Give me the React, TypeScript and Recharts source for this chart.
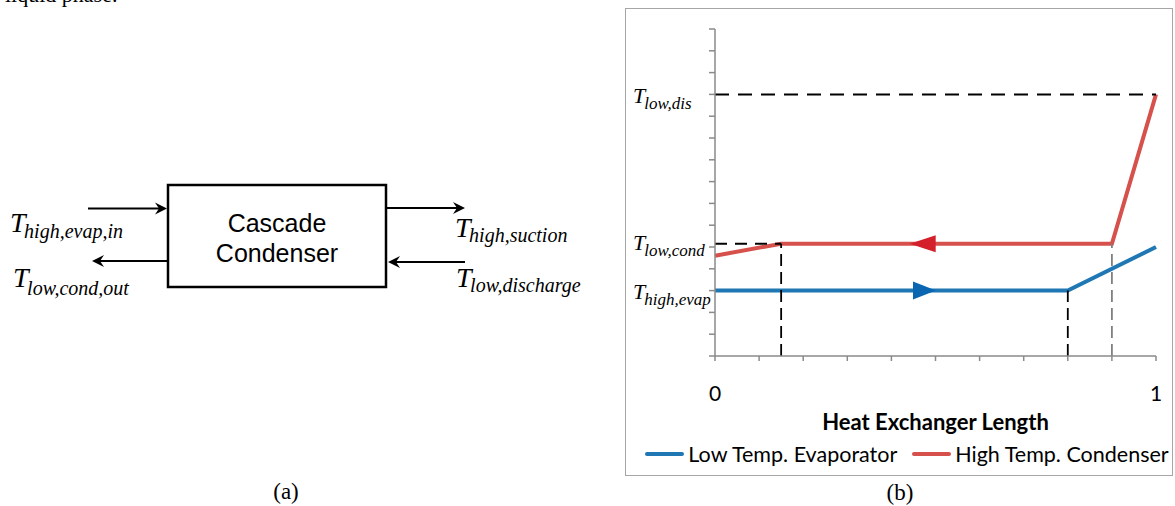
import React from 'react';
import {
  ComposedChart,
  Line,
  Scatter,
  XAxis,
  YAxis,
  ReferenceLine,
  Legend,
  Label,
} from 'recharts';

// heat exchanger length, normalised
const xTicks = [0, 0.1, 0.2, 0.3, 0.4, 0.5, 0.6, 0.7, 0.8, 0.9, 1];
const yTicks = [0, 1, 2, 3, 4, 5, 6, 7, 8, 9, 10, 11, 12, 13, 14, 15];

const seriesNames = ['Low Temp. Evaporator', 'High Temp. Condenser'];

const lowTempEvaporator = [
  { x: 0, y: 3 },
  { x: 0.8, y: 3 },
  { x: 1, y: 5 },
];
const highTempCondenser = [
  { x: 0, y: 4.6 },
  { x: 0.15, y: 5.15 },
  { x: 0.9, y: 5.15 },
  { x: 1, y: 12 },
];

// flow direction markers
const evapArrow = [{ x: 0.475, y: 3 }];
const condArrow = [{ x: 0.471, y: 5.15 }];

// temperature levels / break points
const tLowDis = 12;
const tLowCond = 5.15;
const tHighEvap = 3;
const xCondPinch = 0.15;
const xEvapSuperheat = 0.8;
const xDesuperheat = 0.9;

const yLabels = [
  { tick: 12, sub: 'low,dis', dy: 8.7 },
  { tick: 5, sub: 'low,cond', dy: 2.5 },
  { tick: 3, sub: 'high,evap', dy: 8.7 },
];

const BLUE = '#1f77b4';
const RED = '#d6504c';
const SANS = 'Lato, "Open Sans", sans-serif';
const SERIF = '"Liberation Serif", "Times New Roman", serif';

const YTick = (props: any) => {
  const { y, payload } = props;
  const lbl = yLabels.find((l) => l.tick === payload.value);
  if (!lbl) return <g />;
  return (
    <text x={8} y={y + lbl.dy} fontFamily={SERIF} fontStyle="italic" fill="#000">
      <tspan fontSize={22}>T</tspan>
      <tspan fontSize={17} dx={-1} dy={6}>
        {lbl.sub}
      </tspan>
    </text>
  );
};

const LegendContent = (props: any) => {
  const items = (props.payload || [])
    .filter((p: any) => p.type !== 'none')
    .sort((a: any, b: any) => seriesNames.indexOf(a.value) - seriesNames.indexOf(b.value));
  return (
    <div
      style={{
        display: 'flex',
        justifyContent: 'center',
        alignItems: 'center',
        height: 24,
        fontFamily: SANS,
        fontSize: 21.5,
        color: '#000',
        whiteSpace: 'nowrap',
      }}
    >
      {items.map((p: any, i: number) => (
        <div key={p.value} style={{ display: 'flex', alignItems: 'center', marginLeft: i ? 15 : 0 }}>
          <span style={{ width: 39, height: 4, background: p.color, borderRadius: 2, marginRight: 4 }} />
          <span>{p.value}</span>
        </div>
      ))}
    </div>
  );
};

const leftTriangle = (fill: string) => (p: any) => (
  <polygon
    points={`${p.cx - 13},${p.cy} ${p.cx + 13},${p.cy - 8.5} ${p.cx + 13},${p.cy + 8.5}`}
    fill={fill}
  />
);
const rightTriangle = (fill: string) => (p: any) => (
  <polygon
    points={`${p.cx + 11.5},${p.cy} ${p.cx - 11.5},${p.cy - 9} ${p.cx - 11.5},${p.cy + 9}`}
    fill={fill}
  />
);

function Arrow({ x1, x2, y }: { x1: number; x2: number; y: number }) {
  // arrow from x1 to x2 (tip at x2)
  const d = x2 > x1 ? 1 : -1;
  return (
    <g>
      <line x1={x1} y1={y} x2={x2 - d * 6} y2={y} stroke="#000" strokeWidth={2.2} />
      <path
        d={`M ${x2} ${y} L ${x2 - d * 12} ${y - 6} L ${x2 - d * 8} ${y} L ${x2 - d * 12} ${y + 6} Z`}
        fill="#000"
      />
    </g>
  );
}

function TLabel({ x, y, sub, subDy }: { x: number; y: number; sub: string; subDy: number }) {
  return (
    <text x={x} y={y} fontFamily={SERIF} fontStyle="italic" fill="#000">
      <tspan fontSize={28}>T</tspan>
      <tspan fontSize={20} dx={-1.5} dy={subDy}>
        {sub}
      </tspan>
    </text>
  );
}

function CondenserDiagram() {
  return (
    <svg width={620} height={506} style={{ position: 'absolute', left: 0, top: 0 }}>
      <text x={5} y={2} fontFamily={SERIF} fontSize={22} fill="#000">
        liquid phase.
      </text>
      <rect x={168} y={185} width={218} height={102} fill="none" stroke="#000" strokeWidth={2.5} />
      <text x={277} y={232} textAnchor="middle" fontFamily='"Liberation Sans", Arial, sans-serif' fontSize={25} fill="#000">
        Cascade
      </text>
      <text x={277} y={262} textAnchor="middle" fontFamily='"Liberation Sans", Arial, sans-serif' fontSize={25} fill="#000">
        Condenser
      </text>
      <Arrow x1={88} x2={167} y={208.5} />
      <Arrow x1={167} x2={92} y={261} />
      <Arrow x1={386} x2={465} y={208} />
      <Arrow x1={465} x2={388} y={262} />
      <TLabel x={10} y={231.5} sub="high,evap,in" subDy={6.5} />
      <TLabel x={13} y={286.5} sub="low,cond,out" subDy={8} />
      <TLabel x={455} y={236.5} sub="high,suction" subDy={5.5} />
      <TLabel x={456} y={286.5} sub="low,discharge" subDy={5.5} />
      <text x={286} y={499} textAnchor="middle" fontFamily={SERIF} fontSize={23} fill="#000">
        (a)
      </text>
    </svg>
  );
}

export default function App() {
  return (
    <div style={{ position: 'absolute', left: 0, top: 0, width: 1175, height: 506, background: '#fff', overflow: 'hidden' }}>
      <CondenserDiagram />
      <div
        style={{
          position: 'absolute',
          left: 625,
          top: 8,
          width: 548,
          height: 468,
          border: '1px solid #a6a6a6',
          boxSizing: 'border-box',
        }}
      />
      <div style={{ position: 'absolute', left: 625, top: 9 }}>
        <ComposedChart width={548} height={467} margin={{ top: 20, right: 17, bottom: 10, left: 0 }}>
          <XAxis
            type="number"
            dataKey="x"
            domain={[0, 1]}
            ticks={xTicks}
            interval={0}
            tickSize={5}
            tickMargin={25}
            height={86}
            stroke="#8a8a8a"
            strokeWidth={1.5}
            tick={{ fill: '#000', fontSize: 21, fontFamily: SANS }}
            tickFormatter={(v: number) => (v === 0 || v === 1 ? String(v) : '')}
          >
            <Label
              value="Heat Exchanger Length"
              position="insideBottom"
              offset={12}
              fill="#000"
              fontSize={22}
              fontWeight={700}
              fontFamily={SANS}
            />
          </XAxis>
          <YAxis
            type="number"
            domain={[0, 15]}
            ticks={yTicks}
            interval={0}
            width={90}
            tickSize={6}
            stroke="#8a8a8a"
            strokeWidth={1.5}
            tick={<YTick />}
          />
          <Line
            data={lowTempEvaporator}
            dataKey="y"
            name={seriesNames[0]}
            stroke={BLUE}
            strokeWidth={4}
            dot={false}
            activeDot={false}
            isAnimationActive={false}
          />
          <Line
            data={highTempCondenser}
            dataKey="y"
            name={seriesNames[1]}
            stroke={RED}
            strokeWidth={4}
            dot={false}
            activeDot={false}
            isAnimationActive={false}
          />
          <Scatter data={condArrow} dataKey="y" legendType="none" shape={leftTriangle('#d4202a')} isAnimationActive={false} />
          <Scatter data={evapArrow} dataKey="y" legendType="none" shape={rightTriangle('#0b66b2')} isAnimationActive={false} />
          <ReferenceLine segment={[{ x: 0, y: tLowDis }, { x: 1, y: tLowDis }]} stroke="#000" strokeWidth={2} strokeDasharray="14 9" />
          <ReferenceLine segment={[{ x: 0, y: tLowCond }, { x: xCondPinch, y: tLowCond }]} stroke="#000" strokeWidth={2} strokeDasharray="12 8" />
          <ReferenceLine segment={[{ x: xCondPinch, y: 0 }, { x: xCondPinch, y: tLowCond }]} stroke="#000" strokeWidth={1.8} strokeDasharray="12 6" />
          <ReferenceLine segment={[{ x: xEvapSuperheat, y: 0 }, { x: xEvapSuperheat, y: tHighEvap }]} stroke="#000" strokeWidth={1.8} strokeDasharray="12 6" />
          <ReferenceLine segment={[{ x: xDesuperheat, y: 0 }, { x: xDesuperheat, y: tLowCond }]} stroke="#808080" strokeWidth={1.8} strokeDasharray="12 6" />
          <Legend verticalAlign="bottom" wrapperStyle={{ left: 8, width: 548 }} content={<LegendContent />} />
        </ComposedChart>
      </div>
      <div
        style={{
          position: 'absolute',
          left: 860,
          top: 480,
          width: 80,
          textAlign: 'center',
          fontFamily: SERIF,
          fontSize: 23,
          lineHeight: '26px',
          color: '#000',
        }}
      >
        (b)
      </div>
    </div>
  );
}
